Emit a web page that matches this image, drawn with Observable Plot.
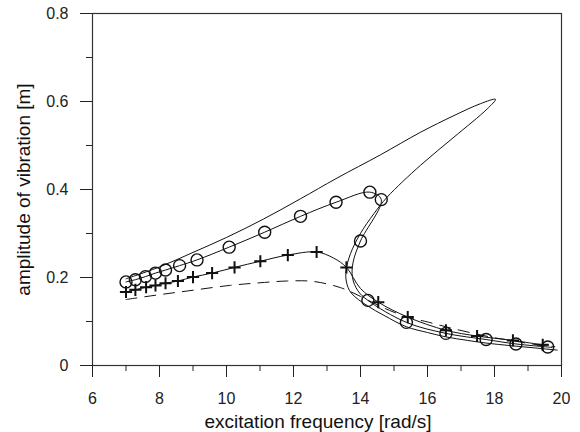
<!DOCTYPE html>
<html>
<head>
<meta charset="utf-8">
<script src="https://cdn.jsdelivr.net/npm/d3@7"></script>
<script src="https://cdn.jsdelivr.net/npm/@observablehq/plot@0.6"></script>
<style>
  html, body { margin: 0; padding: 0; background: #fff; }
  #chart svg { display: block; }
</style>
</head>
<body>
<div id="chart"></div>
<script>
// ---- tick values / labels ----
const xMajorTicks = [6, 8, 10, 12, 14, 16, 18, 20];
const xMinorTicks = [7, 9, 11, 13, 15, 17, 19];
const yMajorTicks = [0, 0.2, 0.4, 0.6, 0.8];
const yMinorTicks = [0.1, 0.3, 0.5, 0.7];
const xTitle = "excitation frequency [rad/s]";
const yTitle = "amplitude of vibration [m]";

// ---- solid response curve (upper branch, fold, lower branch) ----
const mainX = [7.0, 8.0, 9.0, 10.0, 11.11, 12.21, 13.3, 14.6, 15.79, 16.79, 17.58, 18.03, 17.78, 16.79, 15.79, 14.8, 14.4, 13.99, 13.7, 13.57, 13.58, 13.72, 14.2, 14.7, 15.37, 16.0, 16.55, 17.2, 17.75, 18.5, 19.2, 19.87];
const mainY = [0.197, 0.224, 0.257, 0.291, 0.333, 0.379, 0.426, 0.479, 0.530, 0.568, 0.595, 0.605, 0.583, 0.519, 0.455, 0.383, 0.345, 0.299, 0.254, 0.216, 0.190, 0.165, 0.136, 0.114, 0.088, 0.075, 0.065, 0.057, 0.051, 0.045, 0.040, 0.035];

// ---- circle series ----
const circX = [7.0, 7.28, 7.58, 7.88, 8.18, 8.6, 9.12, 10.08, 11.14, 12.21, 13.27, 14.28, 14.62, 14.0, 14.22, 15.37, 16.55, 17.75, 18.64, 19.59];
const circY = [0.190, 0.195, 0.202, 0.210, 0.217, 0.227, 0.240, 0.269, 0.303, 0.339, 0.371, 0.394, 0.377, 0.283, 0.148, 0.098, 0.073, 0.059, 0.049, 0.042];
const circLineX = [7.0, 7.28, 7.58, 7.88, 8.18, 8.6, 9.12, 10.08, 11.14, 12.21, 13.27, 14.28, 14.62, 14.0, 13.78, 13.76, 13.92, 14.22, 15.37, 16.55, 17.75, 18.64, 19.59, 19.72];
const circLineY = [0.190, 0.195, 0.202, 0.210, 0.217, 0.227, 0.240, 0.269, 0.303, 0.339, 0.371, 0.394, 0.377, 0.283, 0.235, 0.200, 0.170, 0.148, 0.098, 0.073, 0.059, 0.049, 0.042, 0.041];

// ---- plus series ----
const plusX = [7.0, 7.28, 7.6, 7.88, 8.18, 8.55, 9.0, 9.57, 10.24, 11.01, 11.83, 12.69, 13.58, 14.53, 15.41, 16.55, 17.48, 18.55, 19.44];
const plusY = [0.167, 0.172, 0.178, 0.182, 0.187, 0.192, 0.201, 0.210, 0.223, 0.237, 0.251, 0.258, 0.223, 0.144, 0.110, 0.080, 0.067, 0.057, 0.047];
const plusLineX = [7.0, 7.28, 7.6, 7.88, 8.18, 8.55, 9.0, 9.57, 10.24, 11.01, 11.83, 12.69, 13.2, 13.58, 14.0, 14.53, 15.41, 16.55, 17.48, 18.55, 19.44, 19.6];
const plusLineY = [0.167, 0.172, 0.178, 0.182, 0.187, 0.192, 0.201, 0.210, 0.223, 0.237, 0.251, 0.258, 0.244, 0.223, 0.175, 0.144, 0.110, 0.080, 0.067, 0.057, 0.047, 0.046];

// ---- dashed curve ----
const dashX = [7.0, 8.0, 8.6, 10.1, 11.0, 11.8, 12.6, 13.4, 14.0, 14.5, 15.0, 15.5, 16.0, 16.7, 17.5, 18.0, 18.5, 19.1, 19.8];
const dashY = [0.150, 0.161, 0.167, 0.182, 0.188, 0.192, 0.191, 0.177, 0.157, 0.138, 0.121, 0.108, 0.099, 0.085, 0.071, 0.063, 0.057, 0.049, 0.043];

const toRows = (xs, ys) => xs.map((x, i) => ({x, y: ys[i]}));
const mainRows = toRows(mainX, mainY);
const circRows = toRows(circX, circY);
const circLineRows = toRows(circLineX, circLineY);
const plusRows = toRows(plusX, plusY);
const plusLineRows = toRows(plusLineX, plusLineY);
const dashRows = toRows(dashX, dashY);

const ink = "#111";
const axisInk = "#222";
const font = "'Liberation Sans', Arial, sans-serif";

const chart = Plot.plot({
  width: 580,
  height: 432,
  marginLeft: 92,
  marginRight: 19,
  marginTop: 13,
  marginBottom: 67,
  style: {fontFamily: font, background: "#fff", color: axisInk},
  x: {domain: [6, 20], label: null},
  y: {domain: [0, 0.8], label: null},
  marks: [
    Plot.frame({stroke: "#333", strokeWidth: 1.2}),
    Plot.axisX({ticks: xMajorTicks, tickSize: 12, tickPadding: 15, fontSize: 16, label: null, tickFormat: d => String(d)}),
    Plot.axisX({ticks: xMinorTicks, tickSize: 6, label: null, tickFormat: () => ""}),
    Plot.axisY({ticks: yMajorTicks, tickSize: 12, tickPadding: 12, fontSize: 16, label: null, tickFormat: d => d === 0 ? "0" : d.toFixed(1)}),
    Plot.axisY({ticks: yMinorTicks, tickSize: 6, label: null, tickFormat: () => ""}),
    Plot.line(dashRows, {x: "x", y: "y", stroke: ink, strokeWidth: 1, strokeDasharray: "11,8", curve: "catmull-rom"}),
    Plot.line(mainRows, {x: "x", y: "y", stroke: ink, strokeWidth: 1, curve: "catmull-rom"}),
    Plot.line(circLineRows, {x: "x", y: "y", stroke: ink, strokeWidth: 1, curve: "catmull-rom"}),
    Plot.line(plusLineRows, {x: "x", y: "y", stroke: ink, strokeWidth: 1, curve: "catmull-rom"}),
    Plot.dot(circRows, {x: "x", y: "y", r: 6, stroke: ink, strokeWidth: 1.4, fill: "none"}),
    Plot.dot(plusRows, {x: "x", y: "y", symbol: "plus", r: 4, stroke: ink, strokeWidth: 2}),
    Plot.text([xTitle], {frameAnchor: "bottom", textAnchor: "middle", dy: 62, dx: -9, lineAnchor: "bottom", fontSize: 19, fill: ink}),
    Plot.text([yTitle], {frameAnchor: "left", textAnchor: "middle", dx: -63, rotate: -90, lineAnchor: "bottom", fontSize: 19, fill: ink})
  ]
});
document.getElementById("chart").appendChild(chart);
</script>
</body>
</html>
